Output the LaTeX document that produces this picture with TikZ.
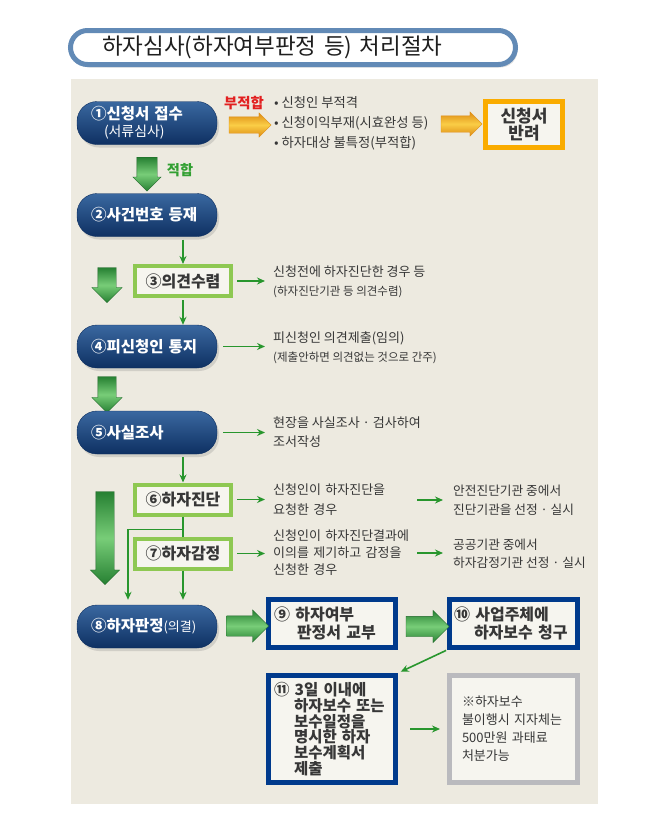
\documentclass[tikz,border=0pt]{standalone}
\usepackage{fontspec}
\setmainfont{Noto Sans CJK KR}
\usetikzlibrary{arrows.meta,shapes.arrows,shadows,calc}
\definecolor{panelbg}{RGB}{237,234,224}
\definecolor{boxbg}{RGB}{246,245,239}
\definecolor{navytop}{RGB}{58,104,160}
\definecolor{navybot}{RGB}{14,48,98}
\definecolor{flowgreen}{RGB}{40,150,45}
\definecolor{fatdark}{RGB}{38,128,50}
\definecolor{fatlight}{RGB}{120,205,120}
\definecolor{lightgreen}{RGB}{142,200,82}
\definecolor{boxblue}{RGB}{0,58,140}
\definecolor{notegray}{RGB}{186,186,190}
\definecolor{amber}{RGB}{250,172,0}
\definecolor{amberdark}{RGB}{222,140,20}
\definecolor{amberlight}{RGB}{250,205,70}
\definecolor{txtgray}{RGB}{55,55,55}
\definecolor{titleblue}{RGB}{98,138,182}
\definecolor{nogored}{RGB}{226,32,32}
\definecolor{okgreen}{RGB}{50,160,50}

\begin{document}
\begin{tikzpicture}[x=1pt, y=-1pt,
    titlepill/.style={rectangle, rounded corners=17pt, draw=titleblue, line width=5pt, fill=white, minimum width=445pt, minimum height=34pt, text width=382pt, inner xsep=31.5pt, align=left, text={rgb,255:red,30;green,30;blue,30}, font=\fontsize{22.5}{26}\selectfont, drop shadow={shadow xshift=2pt, shadow yshift=-3pt, opacity=0.25}},
    pill/.style={rectangle, rounded corners=20pt, draw=navybot, top color=navytop, bottom color=navybot, minimum width=140pt, minimum height=43pt, text width=112pt, inner xsep=14pt, align=left, text=white, font=\fontsize{15.5}{17}\selectfont\bfseries, drop shadow={shadow xshift=2pt, shadow yshift=-3pt, opacity=0.25}},
    gbox/.style={rectangle, draw=lightgreen, line width=4pt, fill=boxbg, minimum width=96pt, minimum height=30pt, text=txtgray, font=\fontsize{16}{18}\selectfont\bfseries},
    bbox/.style={rectangle, draw=boxblue, line width=5pt, fill=boxbg, text=txtgray, align=left, font=\fontsize{16}{18}\selectfont\bfseries},
    ambox/.style={rectangle, draw=amber, line width=5pt, fill=boxbg, minimum width=77pt, minimum height=46pt, align=center, text=txtgray, font=\fontsize{17}{16.5}\selectfont\bfseries},
    notebox/.style={rectangle, draw=notegray, line width=5pt, fill=boxbg, minimum width=128pt, minimum height=107pt, text width=103pt, inner xsep=12.5pt, align=left, text=txtgray, font=\fontsize{13}{18}\selectfont},
    sidetxt/.style={anchor=west, align=left, text=txtgray, inner sep=2pt, font=\fontsize{13}{19}\selectfont},
    garr/.style={-{Stealth[length=8pt, width=7pt]}, draw=flowgreen, line width=1.6pt},
    fatarrow/.style={single arrow, inner xsep=0pt, top color=fatdark, bottom color=fatdark, middle color=fatlight, draw=fatdark!80!black, line width=0.3pt},
    amarrow/.style={single arrow, inner xsep=0pt, top color=amberdark, bottom color=amberdark, middle color=amberlight, draw=amberdark, line width=0.3pt},
]
    \useasboundingbox (0,0) rectangle (671,830);
    \fill[panelbg] (71,79) rectangle (598,804);

    % Title
    \node[titlepill] (title) at (293,47.5) {하자심사(하자여부판정 등) 처리절차};

    % Step 1: reception
    \node[pill] (p1) at (147,123) {①신청서 접수\\\hspace*{13pt}{\fontsize{13.9}{17}\selectfont\mdseries(서류심사)}};
    \node[amarrow, minimum height=42pt, inner ysep=8pt, single arrow head extend=4pt] (o1) at (246,125) {};
    \node[text=nogored, font=\fontsize{14.4}{14}\selectfont\bfseries] (nogo) at (244,103) {부적합};
    \node[sidetxt, font=\fontsize{13.3}{20}\selectfont] (bul) at (272,123) {• 신청인 부적격\\• 신청이익부재(시효완성 등)\\• 하자대상 불특정(부적합)};
    \node[amarrow, minimum height=41pt, inner ysep=8pt, single arrow head extend=4pt] (o2) at (457.5,124) {};
    \node[ambox] (rej) at (524,124.5) {신청서\\반려};
    \node[fatarrow, rotate=-90, minimum height=34pt, inner ysep=10pt, single arrow head extend=4pt] (a1) at ($(p1.south)!0.5!(147,193.5)$) {};
    \node[text=okgreen, font=\fontsize{14.2}{14}\selectfont\bfseries] (ok) at (180,170) {적합};

    % Step 2 - 4
    \node[pill] (p2) at (147,215) {②사건번호 등재};
    \node[gbox] (g3) at (183,281) {③의견수렴};
    \node[fatarrow, rotate=-90, minimum height=35pt, inner ysep=9pt, single arrow head extend=6pt] (a2) at (107,280.5) {};
    \node[sidetxt] (t3) at (271,282) {신청전에 하자진단한 경우 등\\{\fontsize{11.5}{19}\selectfont(하자진단기관 등 의견수렴)}};
    \node[pill] (p4) at (147,346.5) {④피신청인 통지};
    \node[sidetxt] (t4) at (271,347.5) {피신청인 의견제출(임의)\\{\fontsize{11.5}{19}\selectfont(제출안하면 의견없는 것으로 간주)}};
    \node[fatarrow, rotate=-90, minimum height=36pt, inner ysep=9pt, single arrow head extend=6pt] (a3) at (107,390) {};

    \draw[garr, shorten <=3pt] (g3.north |- p2.south) -- (g3.north);
    \draw[garr, shorten <=4pt, shorten >=6pt] (g3.east) -- (g3.east -| t3.west);
    \draw[garr, shorten <=2pt] (g3.south) -- (g3.south |- p4.north);
    \draw[garr, shorten <=6pt, shorten >=6pt] (p4.east) -- (p4.east -| t4.west);

    % Step 5 - 7
    \node[pill] (p5) at (147,432.5) {⑤사실조사};
    \node[sidetxt] (t5) at (271,432) {현장을 사실조사 · 검사하여\\조서작성};
    \node[gbox] (g6) at (183,499.5) {⑥하자진단};
    \node[sidetxt, text width=138pt, font=\fontsize{13}{20}\selectfont] (t6a) at (271,500) {신청인이 하자진단을\\요청한 경우};
    \node[sidetxt, font=\fontsize{12.7}{19}\selectfont] (t6b) at (451,500) {안전진단기관 중에서\\진단기관을 선정 · 실시};
    \node[gbox] (g7) at (183,553.5) {⑦하자감정};
    \node[sidetxt, text width=138pt, font=\fontsize{13}{17}\selectfont] (t7a) at (271,553) {신청인이 하자진단결과에\\이의를 제기하고 감정을\\신청한 경우};
    \node[sidetxt, font=\fontsize{12.7}{18}\selectfont] (t7b) at (451,554) {공공기관 중에서\\하자감정기관 선정 · 실시};
    \node[fatarrow, rotate=-90, minimum height=93pt, inner ysep=9pt, single arrow head extend=5.5pt] (a4) at (105,533.5) {};

    \draw[garr, shorten <=6pt, shorten >=6pt] (p5.east) -- (p5.east -| t5.west);
    \draw[garr, shorten <=3pt] (g6.north |- p5.south) -- (g6.north);
    \draw[garr, shorten <=4pt, shorten >=6pt] (g6.east) -- (g6.east -| t6a.west);
    \draw[garr, shorten <=4pt, shorten >=8pt] (t6a.east) -- (t6a.east -| t6b.west);
    \draw[garr, shorten <=4pt, shorten >=6pt] (g7.east) -- (g7.east -| t7a.west);
    \draw[garr, shorten <=4pt, shorten >=8pt] (t7a.east) -- (t7a.east -| t7b.west);

    % Step 8 - 11
    \node[pill] (p8) at (147,626.5) {⑧하자판정{\fontsize{13}{17}\selectfont\mdseries(의결)}};
    \node[bbox, minimum width=127pt, minimum height=48pt, text width=116pt, inner xsep=5.5pt] (b9) at (332,623.5) {⑨ 하자여부\\\hspace*{23pt}판정서 교부};
    \node[bbox, minimum width=128pt, minimum height=48pt, text width=119pt, inner xsep=4.5pt] (b10) at (513.5,623.5) {⑩ 사업주체에\\\hspace*{20pt}하자보수 청구};
    \node[bbox, minimum width=127pt, minimum height=107pt, text width=116pt, inner xsep=5.5pt, font=\fontsize{15.5}{15.8}\selectfont\bfseries] (b11) at (332,729) {⑪ 3일 이내에\\\hspace*{20pt}하자보수 또는\\\hspace*{20pt}보수일정을\\\hspace*{20pt}명시한 하자\\\hspace*{20pt}보수계획서\\\hspace*{20pt}제출};
    \node[notebox] (fine) at (513.5,729) {※하자보수\\불이행시 지자체는\\500만원 과태료\\처분가능};
    \node[fatarrow, minimum height=42pt, inner ysep=10pt, single arrow head extend=6pt] (a89) at ($(p8.east)!0.5!(b9.west)+(1,1)$) {};
    \node[fatarrow, minimum height=43pt, inner ysep=10pt, single arrow head extend=6pt] (a910) at ($(b9.east)!0.5!(b10.west)+(0,3)$) {};

    \draw[flowgreen, line width=1.6pt] (g6.south) -- (g7.north);
    \coordinate (br) at ($(g6.south)!0.65!(g7.north)$);
    \draw[garr, shorten >=5pt] (br) -| ([xshift=-19pt]p8.north);
    \draw[garr, shorten >=5pt] (g7.south) -- (g7.south |- p8.north);
    \draw[garr, shorten <=1pt, shorten >=3pt] (b10.south west) -- (b11.north east);
    \draw[garr, shorten <=12pt, shorten >=7pt] (b11.east) -- (fine.west);
\end{tikzpicture}
\end{document}
